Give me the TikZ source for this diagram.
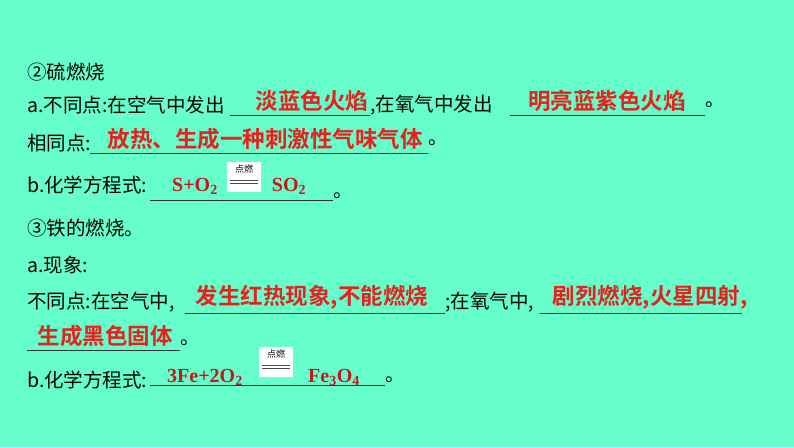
\documentclass[tikz,border=0pt]{standalone}
\usepackage{fontspec}
\setmainfont{Noto Sans CJK SC}
\newfontfamily\cjkb{Noto Sans CJK SC Bold}
\newfontfamily\tms{Liberation Serif}
\definecolor{bgmint}{HTML}{66FFCC}
\definecolor{ansred}{HTML}{E8201E}
\definecolor{eqred}{HTML}{C8161D}
\tikzset{
  txt/.style={anchor=west, inner sep=0pt, font=\fontsize{19.5}{19.5}\selectfont},
  ans/.style={inner sep=0pt, text=ansred, font=\cjkb\fontsize{22.5}{22.5}\selectfont},
  eq/.style={inner sep=0pt, text=eqred, font=\tms\bfseries\fontsize{20}{20}\selectfont},
  blank/.style={draw=black!80, line width=0.8pt},
  fire/.style={fill=white, minimum width=34pt, minimum height=30pt, inner sep=0pt}
}
\newcommand{\firesign}[2]{%
  \node[fire] (#1) at #2 {};
  \node[inner sep=0pt, font=\fontsize{9}{9}\selectfont] at ([yshift=8pt]#1.center) {点燃};
  \draw[black!70, line width=0.7pt] ([xshift=3pt,yshift=-3pt]#1.west) -- ([xshift=-3pt,yshift=-3pt]#1.east);
  \draw[black!70, line width=0.7pt] ([xshift=3pt,yshift=-6pt]#1.west) -- ([xshift=-3pt,yshift=-6pt]#1.east);
}
\begin{document}
\begin{tikzpicture}[x=1pt, y=-1pt]
  \fill[bgmint] (0,0) rectangle (794,447);
  \useasboundingbox (0,0) rectangle (794,447);

  % sulfur
  \node[txt] (s1) at (27,72) {②硫燃烧};
  \node[txt] (s2) at (27,105) {a.不同点:在空气中发出};
  \draw[blank] (230,115) -- (370,115);
  \node[ans] (s2a) at (312,101) {淡蓝色火焰};
  \node[txt] (s2b) at (370,105) {,在氧气中发出};
  \draw[blank] (510,115) -- (705,115);
  \node[ans] (s2c) at (607,101) {明亮蓝紫色火焰};
  \node[txt] at (705,105) {。};

  \node[txt] (s3) at (27,143) {相同点:};
  \draw[blank] (90,153) -- (428,153);
  \node[ans] (s3a) at (265,139) {放热、生成一种刺激性气味气体};
  \node[txt] at (428,143) {。};

  \node[txt] (s4) at (27,185) {b.化学方程式:};
  \draw[blank] (150,200) -- (333,200);
  \node[eq] (s4a) at (195,186) {S+O\textsubscript{2}};
  \firesign{f1}{(244,177)}
  \node[eq] (s4b) at (289,186) {SO\textsubscript{2}};
  \node[txt] at (333,196) {。};

  % iron
  \node[txt] (i1) at (27,228) {③铁的燃烧。};
  \node[txt] (i2) at (27,265) {a.现象:};
  \node[txt] (i3) at (27,302) {不同点:在空气中,};
  \draw[blank] (185,313) -- (445,313);
  \node[ans] (i3a) at (312,297) {发生红热现象,不能燃烧};
  \node[txt] (i3b) at (445,302) {;在氧气中,};
  \draw[blank] (540,313) -- (742,313);
  \node[ans] (i3c) at (650,297) {剧烈燃烧,火星四射,};
  \draw[blank] (27,350) -- (180,350);
  \node[ans] (i4) at (105,336) {生成黑色固体};
  \node[txt] at (180,343) {。};

  \node[txt] (i5) at (27,380) {b.化学方程式:};
  \draw[blank] (150,385) -- (385,385);
  \node[eq] (i5a) at (205,377) {3Fe+2O\textsubscript{2}};
  \firesign{f2}{(276,362)}
  \node[eq] (i5b) at (334,377) {Fe\textsubscript{3}O\textsubscript{4}};
  \node[txt] at (385,380) {。};
\end{tikzpicture}
\end{document}
